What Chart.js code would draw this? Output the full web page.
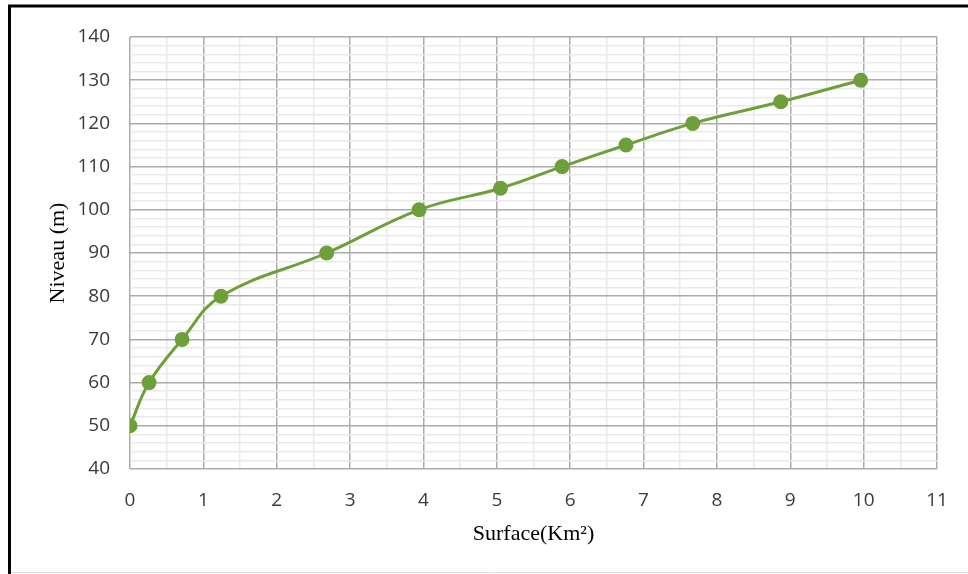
<!DOCTYPE html>
<html>
<head>
<meta charset="utf-8">
<script src="https://cdn.jsdelivr.net/npm/chart.js@4.4.1/dist/chart.umd.min.js"></script>
<style>
    html, body { margin: 0; padding: 0; background: #ffffff; }
    canvas { display: block; }
</style>
</head>
<body>
<canvas id="courbe" width="968" height="574"></canvas>
<script>
// Courbe hauteur-surface : niveau (m) en fonction de la surface (Km²)
const surfaces = [0, 0.26, 0.71, 1.24, 2.68, 3.94, 5.05, 5.89, 6.76, 7.67, 8.87, 9.96];
const niveaux = [50, 60, 70, 80, 90, 100, 105, 110, 115, 120, 125, 130];

const xMin = 0, xMax = 11;
const yMin = 40, yMax = 140;

const vert = '#6d9f3b';
const grilleMajeure = '#ababab';
const grilleMineure = '#e9e9e9';

// Cadre noir autour du graphique (gauche et haut), trait gris en bas
const cadre = {
    id: 'cadre',
    afterDraw(chart) {
        const ctx = chart.ctx;
        ctx.save();
        ctx.strokeStyle = '#000000';
        ctx.lineWidth = 3;
        ctx.beginPath();
        ctx.moveTo(9.5, 574);
        ctx.lineTo(9.5, 6);
        ctx.lineTo(968, 6);
        ctx.stroke();
        ctx.strokeStyle = '#dcdcdc';
        ctx.lineWidth = 1;
        ctx.beginPath();
        ctx.moveTo(11, 572.5);
        ctx.lineTo(968, 572.5);
        ctx.stroke();
        ctx.restore();
    }
};

const points = surfaces.map((s, i) => ({ x: s, y: niveaux[i] }));

new Chart(document.getElementById('courbe'), {
    type: 'line',
    data: {
        datasets: [{
            label: 'Niveau',
            data: points,
            borderColor: vert,
            backgroundColor: vert,
            borderWidth: 3,
            pointRadius: 6,
            pointBackgroundColor: vert,
            pointBorderColor: vert,
            tension: 0.4
        }]
    },
    options: {
        responsive: false,
        animation: false,
        layout: { padding: { top: 37, right: 31, bottom: 0, left: 0 } },
        plugins: {
            legend: { display: false },
            tooltip: { enabled: false }
        },
        scales: {
            x: {
                type: 'linear',
                min: xMin,
                max: xMax,
                afterFit(scale) { scale.height = 105; },
                ticks: {
                    stepSize: 0.5,
                    autoSkip: false,
                    maxRotation: 0,
                    padding: 20,
                    color: '#3a3a3a',
                    font: { size: 19, family: 'Open Sans' },
                    callback: v => Number.isInteger(v) ? v : ''
                },
                grid: {
                    drawTicks: false,
                    lineWidth: 1.5,
                    color: c => Number.isInteger(c.tick.value) ? grilleMajeure : grilleMineure
                },
                border: { display: false },
                title: {
                    display: true,
                    text: 'Surface(Km²)',
                    color: '#000000',
                    font: { size: 22, family: 'Liberation Serif' },
                    padding: { top: 0, bottom: 27 }
                }
            },
            y: {
                type: 'linear',
                min: yMin,
                max: yMax,
                afterFit(scale) { scale.width = 130; },
                ticks: {
                    stepSize: 2,
                    autoSkip: false,
                    padding: 20,
                    color: '#3a3a3a',
                    font: { size: 19, family: 'Open Sans' },
                    callback: v => v % 10 === 0 ? v : ''
                },
                grid: {
                    drawTicks: false,
                    lineWidth: 1.5,
                    color: c => c.tick.value % 10 === 0 ? grilleMajeure : grilleMineure
                },
                border: { display: false },
                title: {
                    display: true,
                    text: 'Niveau (m)',
                    color: '#000000',
                    font: { size: 22, family: 'Liberation Serif' },
                    padding: { top: 45, bottom: 0 }
                }
            }
        }
    },
    plugins: [cadre]
});
</script>
</body>
</html>
